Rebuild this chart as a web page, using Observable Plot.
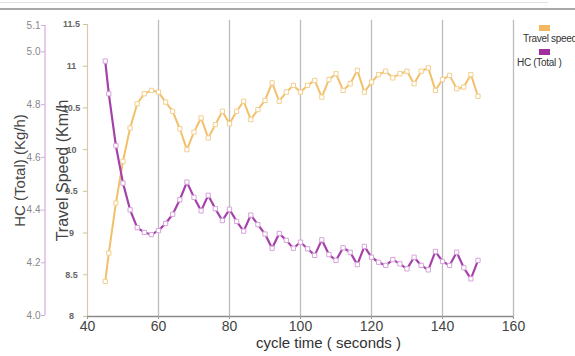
<!DOCTYPE html>
<html>
<head>
<meta charset="utf-8">
<script src="https://cdn.jsdelivr.net/npm/d3@7"></script>
<script src="https://cdn.jsdelivr.net/npm/@observablehq/plot@0.6"></script>
<style>
  body { margin: 0; background: #fff; }
  #wrap { position: relative; width: 575px; height: 356px; overflow: hidden; background: #fff; font-family: "Liberation Sans", Arial, sans-serif; }
  #wrap svg { position: absolute; left: 0; top: 0; background: transparent !important; }
  .topline1 { position: absolute; left: 0; top: 2px; width: 548px; height: 1px; background: #e2e2e2; }
  .topline2 { position: absolute; left: 0; top: 8px; width: 575px; height: 2px; background: #a8a8a8; }
  .lg-sw { position: absolute; width: 11px; height: 6px; }
  .lg-tx { position: absolute; font-size: 10px; color: #333; white-space: nowrap; letter-spacing: -0.3px; }
</style>
</head>
<body>
<div id="wrap">
  <div class="topline1"></div>
  <div class="topline2"></div>
</div>
<script>
// ---- data ----
const time = [45,46,48,50,52,54,56,58,60,62,64,66,68,70,72,74,76,78,80,82,84,86,88,90,92,94,96,98,100,102,104,106,108,110,112,114,116,118,120,122,124,126,128,130,132,134,136,138,140,142,144,146,148,150];
const travelSpeed = [8.42,8.76,9.36,9.86,10.26,10.55,10.67,10.71,10.69,10.57,10.46,10.25,10.00,10.21,10.38,10.14,10.30,10.46,10.31,10.46,10.58,10.36,10.48,10.59,10.80,10.58,10.69,10.77,10.69,10.77,10.83,10.63,10.84,10.91,10.71,10.79,10.95,10.69,10.81,10.90,10.94,10.86,10.91,10.94,10.79,10.94,10.98,10.71,10.84,10.89,10.73,10.75,10.90,10.64];
const hcTotal = [4.965,4.841,4.644,4.502,4.401,4.333,4.315,4.307,4.322,4.349,4.384,4.439,4.506,4.448,4.397,4.456,4.405,4.360,4.403,4.357,4.320,4.381,4.345,4.309,4.255,4.311,4.285,4.255,4.278,4.253,4.228,4.287,4.231,4.209,4.257,4.240,4.193,4.262,4.221,4.202,4.190,4.212,4.196,4.177,4.221,4.190,4.173,4.243,4.205,4.190,4.240,4.181,4.139,4.209];
const xTicks = [40,60,80,100,120,140,160];
const gridTicks = [60,80,100,120,140,160];
const speedTicks = [8,8.5,9,9.5,10,10.5,11,11.5];
const hcTicks = [4.0,4.2,4.4,4.6,4.8,5.0,5.1];
const seriesNames = ["Travel speed", "HC (Total )"];
const titles = { x: "cycle time ( seconds )", speed: "Travel Speed (Km/h", hc: "HC (Total) (Kg/h)" };

const speedRows = time.map((t, i) => ({ t, v: travelSpeed[i] }));
const hcRows = time.map((t, i) => ({ t, v: hcTotal[i] }));

const xDomain = [40, 160];
const speedDomain = [8, 11.5];
const hcDomain = [4.0, 5.1];

const W = 575, H = 356;
const orange = "#f2c06a", orangeMark = "#f3cf8e";
const purple = "#a542aa", purpleMark = "#d7a4dc";
const font = "'Liberation Sans', Arial, sans-serif";

// ---- plot 1: travel speed, x axis, grid ----
const p1 = Plot.plot({
  width: W, height: H,
  marginLeft: 87, marginRight: 62, marginTop: 24, marginBottom: 40,
  style: { fontFamily: font, background: "transparent", overflow: "visible" },
  x: { domain: xDomain },
  y: { domain: speedDomain },
  marks: [
    Plot.ruleX(gridTicks, { stroke: "#bdbdbd", strokeWidth: 1.3, y1: 8, y2: 11.55 }),
    Plot.ruleX([xDomain[0]], { stroke: "#d6cba8", strokeWidth: 1.2 }),
    Plot.ruleY([speedDomain[0]], { stroke: "#8a8a8a", strokeWidth: 1.5 }),
    Plot.axisX({ ticks: xTicks, tickSize: 3, tickPadding: 2, fontSize: 14, fill: "#444", stroke: "#999", label: null, tickFormat: d => String(d) }),
    Plot.axisY({ ticks: speedTicks, tickSize: 4, tickPadding: 12, textAnchor: "middle", fontSize: 9, fill: "#666", stroke: "#cdbf98", label: null, tickFormat: d => String(d), fontWeight: "bold" }),
    Plot.line(speedRows, { x: "t", y: "v", stroke: orange, strokeWidth: 2 }),
    Plot.dot(speedRows, { x: "t", y: "v", symbol: "square", r: 2.4, fill: "#fff", stroke: orangeMark, strokeWidth: 1 }),
    Plot.text([titles.speed], { x: xDomain[0], y: d3.mean(speedDomain), dx: -25, rotate: -90, text: d => d, fontSize: 16, fill: "#444" }),
    Plot.text([titles.x], { frameAnchor: "bottom", dx: 28, dy: 31, text: d => d, fontSize: 15, fill: "#333" })
  ]
});

// ---- plot 2: HC (Total) on its own y scale ----
const p2 = Plot.plot({
  width: W, height: H,
  marginLeft: 45, marginRight: 62, marginTop: 25, marginBottom: 41,
  style: { fontFamily: font, background: "transparent", overflow: "visible" },
  x: { domain: xDomain, range: [87, 513], axis: null },
  y: { domain: hcDomain },
  marks: [
    Plot.axisY({ ticks: hcTicks, tickSize: 4, tickPadding: 1, fontSize: 10, fill: "#888", stroke: "#d9a9e0", label: null, tickFormat: d => d.toFixed(1) }),
    Plot.line(hcRows, { x: "t", y: "v", stroke: purple, strokeWidth: 2.2 }),
    Plot.dot(hcRows, { x: "t", y: "v", symbol: "square", r: 2.4, fill: "#fff", stroke: purpleMark, strokeWidth: 1 }),
    Plot.text([titles.hc], { x: xDomain[0], y: d3.mean(hcDomain), dx: -67, rotate: -90, text: d => d, fontSize: 15, fill: "#444" })
  ]
});

// HC axis line at the left edge of plot 2's frame, spanning its y scale
{
  const yr = p2.scale("y").range;
  d3.select(p2).insert("line", ":first-child")
    .attr("x1", 45).attr("x2", 45)
    .attr("y1", yr[0]).attr("y2", yr[1])
    .attr("stroke", "#d9a9e0").attr("stroke-width", 1.2);
}

const wrap = document.getElementById("wrap");
wrap.appendChild(p1);
wrap.appendChild(p2);

// ---- legend ----
const legendColors = ["#f4b860", "#a0309c"];
const legendPos = [{ sw: 25, tx: 33, left: 523 }, { sw: 49, tx: 57, left: 517 }];
seriesNames.forEach((name, i) => {
  const sw = document.createElement("div");
  sw.className = "lg-sw";
  sw.style.left = "539px"; sw.style.top = legendPos[i].sw + "px";
  sw.style.background = legendColors[i];
  wrap.appendChild(sw);
  const tx = document.createElement("div");
  tx.className = "lg-tx";
  tx.style.left = legendPos[i].left + "px"; tx.style.top = legendPos[i].tx + "px";
  tx.textContent = name;
  wrap.appendChild(tx);
});
</script>
</body>
</html>
